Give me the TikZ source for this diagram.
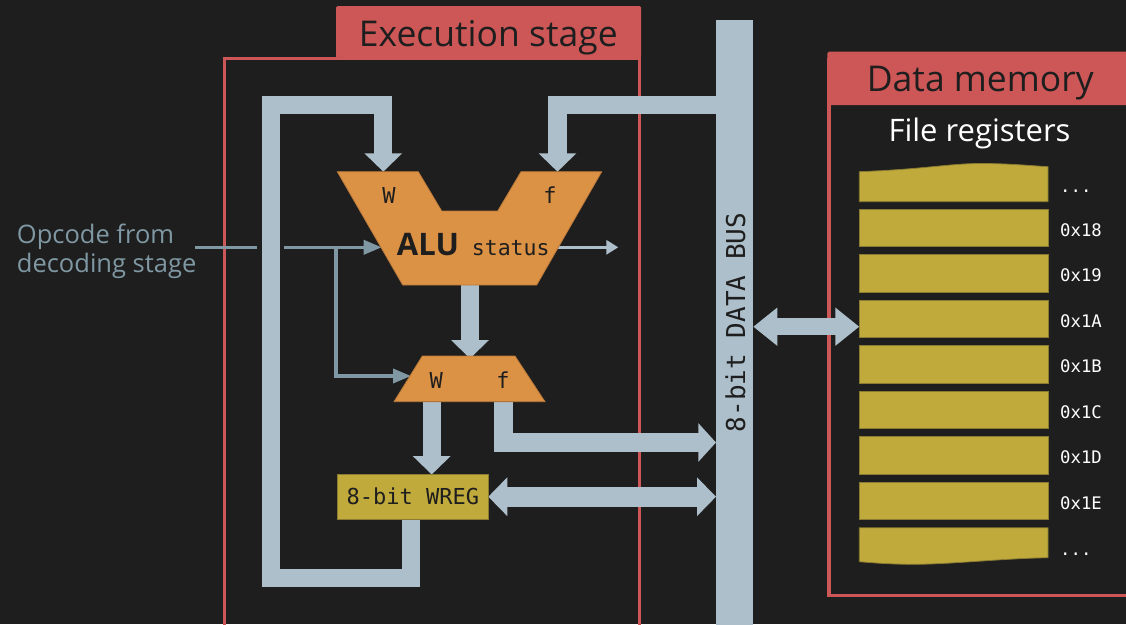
\documentclass[tikz,border=0pt]{standalone}
\usepackage{fontspec}
\setmainfont{Open Sans}
\newfontfamily\monof{DejaVu Sans Mono}
\usetikzlibrary{arrows.meta}
\definecolor{bgc}{HTML}{1E1E1E}
\definecolor{redc}{HTML}{CD5757}
\definecolor{busc}{HTML}{ADBFCA}
\definecolor{orc}{HTML}{DC9245}
\definecolor{oredge}{HTML}{B8783A}
\definecolor{olc}{HTML}{C0AA3C}
\definecolor{oledge}{HTML}{8A7A32}
\definecolor{opc}{HTML}{7F98A3}
\definecolor{darkt}{HTML}{1E1E1E}
\tikzset{
  busline/.style={line width=18.3pt, draw=busc, line join=miter},
  vtip/.style={-{Triangle[width=36.7pt,length=18.4pt]}},
  thinop/.style={line width=3.6pt, draw=opc, -{Triangle[width=14pt,length=18pt]}},
  titletxt/.style={inner sep=0pt, text=darkt, font=\fontsize{35.5}{40}\selectfont},
  monolbl/.style={inner sep=0pt, text=darkt, font=\monof\fontsize{22}{26}\selectfont},
  reglbl/.style={inner sep=0pt, text=white, font=\monof\fontsize{17.3}{20}\selectfont, anchor=base west},
  regbox/.style={fill=olc, draw=oledge, line width=0.8pt},
  unitshape/.style={fill=orc, draw=oredge, line width=0.8pt},
}
\begin{document}
\begin{tikzpicture}[x=1pt,y=-1pt]
\useasboundingbox (0,0) rectangle (1126,624);
\fill[bgc] (0,0) rectangle (1126,624);

% Execution stage box
\draw[redc, line width=3pt] (224.5,58.5) rectangle (639.5,640);
\fill[redc, rounded corners=1.5pt] (336,6) rectangle (641,58);
\node[titletxt, anchor=base] (exectitle) at (488.3,46.7) {Execution stage};

% Data memory box
\draw[redc, line width=3.3pt] (829,60) rectangle (1140,595.5);
\fill[redc, rounded corners=1.5pt] (827.3,51.7) rectangle (1140,105);
\node[titletxt, anchor=base] (memtitle) at (980.3,91.7) {Data memory};
\node[inner sep=0pt, text=white, font=\fontsize{31}{36}\selectfont, anchor=base] (filereg) at (979.5,141.7) {File registers};

% registers
\path[regbox] (859.3,201.7) -- (859.3,171.7) .. controls (930,169) and (950,163) .. (987,163.5) .. controls (1015,164) and (1035,166) .. (1048,166.7) -- (1048,201.7) -- cycle;
\node[reglbl] (rdots1) at (1060,192) {...};
\foreach \t/\lbl [count=\i] in {209.3/0x18,254.8/0x19,300.3/0x1A,345.8/0x1B,391.3/0x1C,436.8/0x1D,482.3/0x1E}{
  \path[regbox] (859.3,\t) rectangle (1048,\t+37.4);
  \node[reglbl] (reg\i) at (1060,\t+18.7+8.3) {\lbl};
}
\path[regbox] (859.3,527.8) -- (1048,527.8) -- (1048,557.7) .. controls (1000,558.5) and (950,564.5) .. (910,564.3) .. controls (885,564) and (870,562.5) .. (859.3,561.7) -- cycle;
\node[reglbl] (rdots2) at (1060,555) {...};
\coordinate (regA) at (859.3,326.7);

% data bus
\fill[busc] (716,20) rectangle (753.3,640);
\node[inner sep=0pt, text=darkt, font=\monof\fontsize{26}{30}\selectfont, rotate=90, anchor=base] (buslbl) at (745,322.5) {8-bit DATA BUS};
\coordinate (busF) at (716,105);
\coordinate (busOut) at (716,442.5);
\coordinate (busW) at (716,496.7);
\coordinate (busM) at (753.3,326.7);

% opcode
\node[inner sep=0pt, text=opc, font=\fontsize{25.5}{29}\selectfont, align=left, anchor=base west] (opcode) at (16.7,272.7) {Opcode from\\decoding stage};
\coordinate (opstart) at (195,247.3);
\coordinate (aluIn) at (381.7,247.3);
\coordinate (branch) at (335.7,247.3);
\coordinate (muxIn) at (411,376);
\draw[thinop] (opstart) -- (aluIn);
\draw[thinop] (branch) |- (muxIn);

% key coordinates
\coordinate (aluW) at (383.3,171.7);
\coordinate (aluF) at (557.5,171.7);
\coordinate (aluOut) at (470,285);
\coordinate (muxTop) at (470,358.5);
\coordinate (muxW) at (431.7,401.7);
\coordinate (muxF) at (503.5,401.7);
\coordinate (wregTop) at (431.7,474.5);
\coordinate (wregS) at (411.3,519.3);
\coordinate (wregE) at (488.3,496.7);
\coordinate (loopA) at (411.3,578.3);
\coordinate (loopB) at (270.8,578.3);
\coordinate (loopC) at (270.8,105);
\coordinate (loopD) at (383.3,105);
\coordinate (fcorner) at (557.5,105);
\coordinate (foutc) at (503.5,442.5);
\coordinate (haloA) at (270.8,225);
\coordinate (haloB) at (270.8,270);
\coordinate (statS) at (556.7,247.3);
\coordinate (statE) at (618.3,247.3);

% status arrow
\draw[line width=3.6pt, busc, -{Triangle[width=14pt,length=12pt]}] (statS) -- (statE);

% WREG feedback loop
\draw[bgc, line width=27pt] (haloA) -- (haloB);
\draw[busline, vtip] (wregS) -- (loopA) -- (loopB) -- (loopC) -- (loopD) -- (aluW);
% f from bus
\draw[busline, vtip] (busF) -- (fcorner) -- (aluF);
% ALU to mux
\draw[busline, vtip] (aluOut) -- (muxTop);
% mux W to WREG
\draw[busline, vtip] (muxW) -- (wregTop);
% mux f to bus
\draw[busline, -{Triangle[width=37.7pt,length=17.7pt]}] (muxF) -- (foutc) -- (busOut);
% WREG <-> bus
\draw[line width=20pt, busc, {Triangle[width=37.7pt,length=19pt]}-{Triangle[width=37.7pt,length=19pt]}] (wregE) -- (busW);
% bus <-> memory
\draw[line width=16.7pt, busc, {Triangle[width=36.7pt,length=24pt]}-{Triangle[width=36.7pt,length=24pt]}] (busM) -- (regA);

% ALU shape
\path[unitshape] (337.3,171.7) -- (418.3,171.7) -- (441.7,211) -- (497.7,211) -- (521,171.7) -- (601.7,171.7) -- (536.7,285) -- (402.7,285) -- cycle;
\node[monolbl] (aluWl) at (389,195) {W};
\node[monolbl] (aluFl) at (550,195) {f};
\node[inner sep=0pt, text=darkt, font=\bfseries\fontsize{31}{36}\selectfont, anchor=base west] (alulbl) at (396.7,255) {ALU};
\node[inner sep=0pt, text=darkt, font=\monof\fontsize{21.5}{26}\selectfont, anchor=base west] (statlbl) at (471.7,255) {status};

% mux shape
\path[unitshape] (422.3,356) -- (515,356) -- (545,401.7) -- (394,401.7) -- cycle;
\node[monolbl] (muxWl) at (436.2,380) {W};
\node[monolbl] (muxFl) at (503,380) {f};

% WREG
\node[regbox, minimum width=151pt, minimum height=45.3pt, inner sep=0pt, text=darkt, font=\monof\fontsize{22}{26}\selectfont] (wreg) at (412.8,496.7) {8-bit WREG};
\end{tikzpicture}
\end{document}
